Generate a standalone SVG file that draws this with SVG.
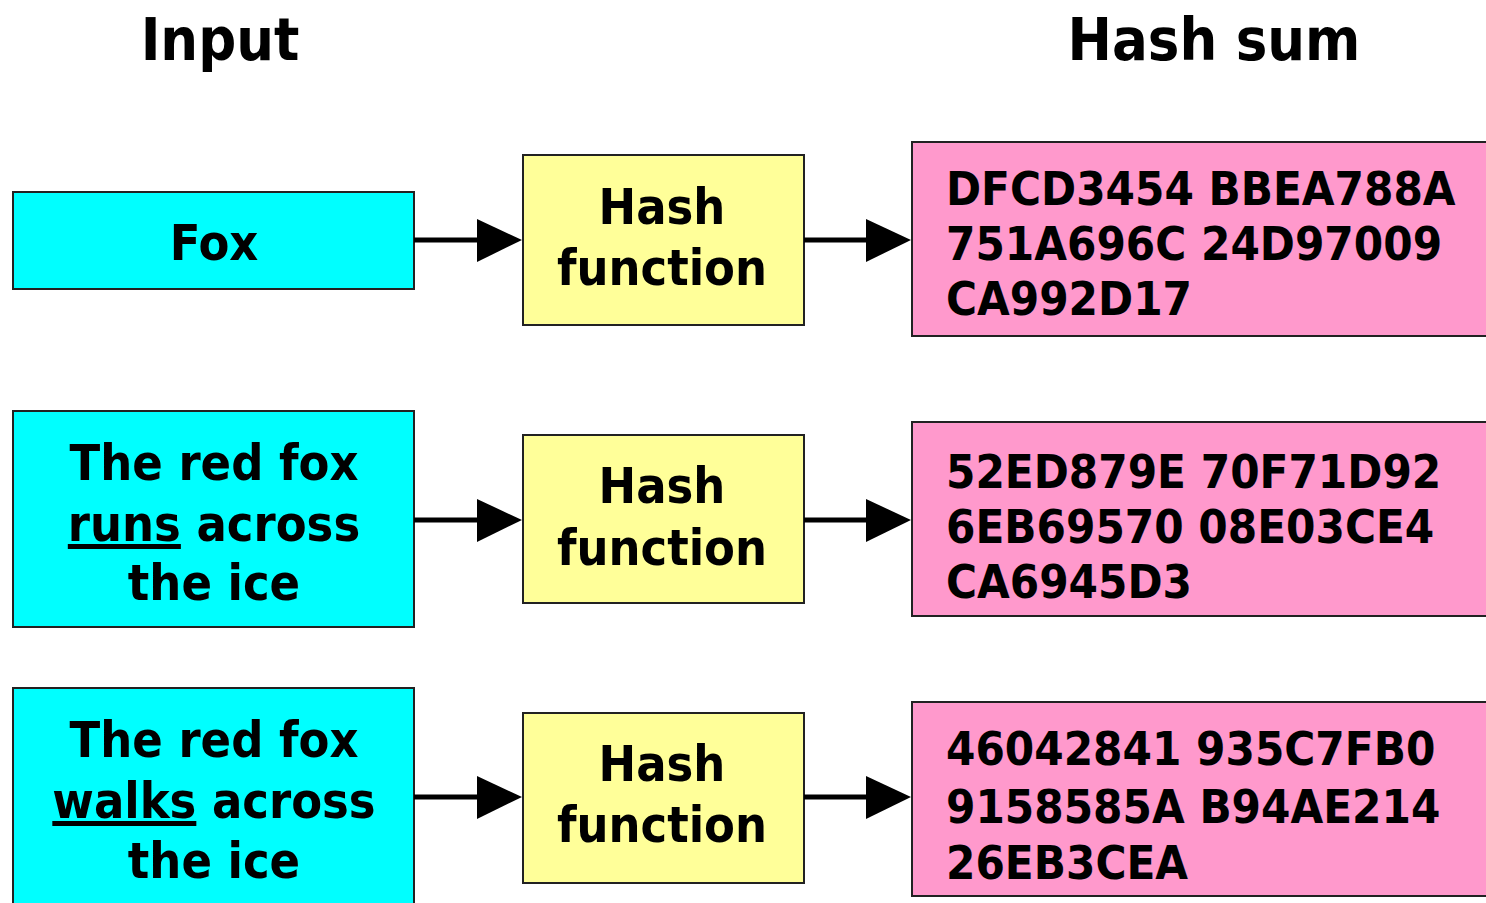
<svg xmlns="http://www.w3.org/2000/svg" width="1486" height="903" viewBox="0 0 1486 903">
<style>
.t{font-family:"DejaVu Sans Condensed","DejaVu Sans",sans-serif;font-weight:bold;fill:#000}
.title{font-size:59px;text-anchor:middle}
.in{font-size:50px;text-anchor:middle}
.hx{font-size:47px}
.cy{fill:#00FFFF;stroke:#222;stroke-width:2}
.ye{fill:#FFFF99;stroke:#222;stroke-width:2}
.pk{fill:#FF99CC;stroke:#222;stroke-width:2}
.ln{stroke:#000;stroke-width:5;fill:none}
.ah{fill:#000}
</style>
<rect width="1486" height="903" fill="#fff"/>
<text class="t title" x="220" y="60">Input</text>
<text class="t title" x="1214" y="60">Hash sum</text>

<g id="input1"><rect class="cy" x="13" y="192" width="401" height="97"/>
<text class="t in" x="214" y="260">Fox</text></g>
<g id="input2"><rect class="cy" x="13" y="411" width="401" height="216"/>
<text class="t in" x="214" y="480">The red fox</text>
<text class="t in" x="214" y="541"><tspan text-decoration="underline">runs</tspan> across</text>
<text class="t in" x="214" y="600">the ice</text></g>
<g id="input3"><rect class="cy" x="13" y="688" width="401" height="230"/>
<text class="t in" x="214" y="757">The red fox</text>
<text class="t in" x="214" y="818"><tspan text-decoration="underline">walks</tspan> across</text>
<text class="t in" x="214" y="878">the ice</text></g>

<g id="hash1"><rect class="ye" x="523" y="155" width="281" height="170"/>
<text class="t in" x="662" y="224">Hash</text>
<text class="t in" x="662" y="285">function</text></g>
<g id="hash2"><rect class="ye" x="523" y="435" width="281" height="168"/>
<text class="t in" x="662" y="503">Hash</text>
<text class="t in" x="662" y="565">function</text></g>
<g id="hash3"><rect class="ye" x="523" y="713" width="281" height="170"/>
<text class="t in" x="662" y="781">Hash</text>
<text class="t in" x="662" y="842">function</text></g>

<g id="sum1"><rect class="pk" x="912" y="142" width="590" height="194"/>
<text class="t hx" x="946" y="205">DFCD3454 BBEA788A</text>
<text class="t hx" x="946" y="260">751A696C 24D97009</text>
<text class="t hx" x="946" y="315">CA992D17</text></g>
<g id="sum2"><rect class="pk" x="912" y="422" width="590" height="194"/>
<text class="t hx" x="946" y="488">52ED879E 70F71D92</text>
<text class="t hx" x="946" y="543">6EB69570 08E03CE4</text>
<text class="t hx" x="946" y="598">CA6945D3</text></g>
<g id="sum3"><rect class="pk" x="912" y="702" width="590" height="194"/>
<text class="t hx" x="946" y="765">46042841 935C7FB0</text>
<text class="t hx" x="946" y="823">9158585A B94AE214</text>
<text class="t hx" x="946" y="879">26EB3CEA</text></g>

<g id="connectors">
<line class="ln" x1="414" y1="240" x2="480" y2="240"/><polygon class="ah" points="477,219 522,240 477,262"/>
<line class="ln" x1="804" y1="240" x2="870" y2="240"/><polygon class="ah" points="866,219 911,240 866,262"/>
<line class="ln" x1="414" y1="520" x2="480" y2="520"/><polygon class="ah" points="477,499 522,520 477,542"/>
<line class="ln" x1="804" y1="520" x2="870" y2="520"/><polygon class="ah" points="866,499 911,520 866,542"/>
<line class="ln" x1="414" y1="797" x2="480" y2="797"/><polygon class="ah" points="477,776 522,797 477,819"/>
<line class="ln" x1="804" y1="797" x2="870" y2="797"/><polygon class="ah" points="866,776 911,797 866,819"/>
</g>
</svg>
